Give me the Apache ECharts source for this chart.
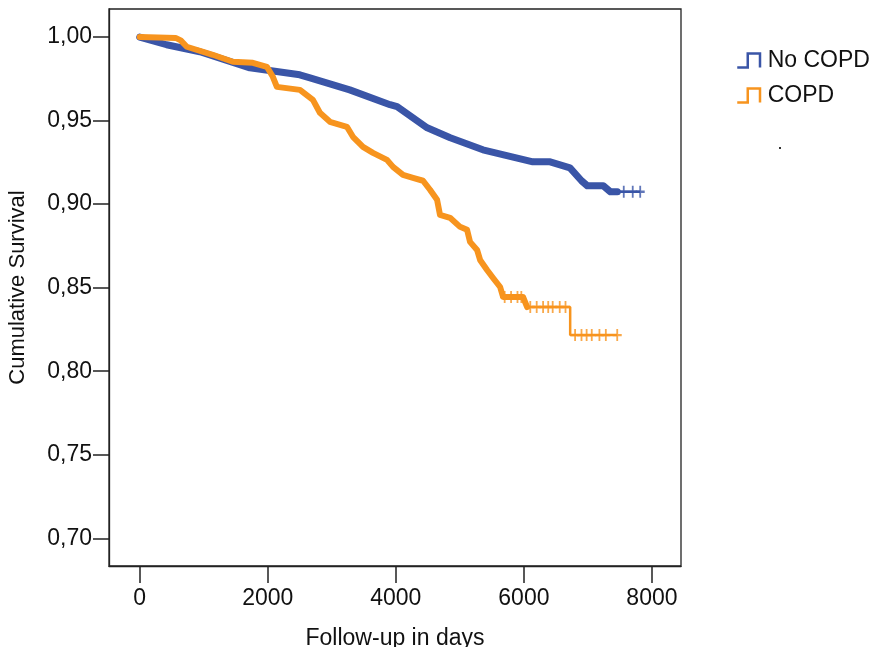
<!DOCTYPE html>
<html>
<head>
<meta charset="utf-8">
<script src="https://cdn.jsdelivr.net/npm/echarts@6/dist/echarts.min.js"></script>
<style>html,body{margin:0;padding:0;background:#fff}#c{width:876px;height:647px}</style>
</head>
<body>
<div id="c"></div>
<script>
// ---- data ----
var xTicks = [0, 2000, 4000, 6000, 8000];
var yTicks = [0.70, 0.75, 0.80, 0.85, 0.90, 0.95, 1.00];

var noCopdDays = [0, 420, 940, 1720, 2500, 2660, 3280, 3910, 4020, 4490, 4850, 5360, 6140, 6410, 6720, 6900, 6990, 7240, 7350, 7460];
var noCopdSurv = [1.000, 0.9954, 0.9912, 0.9816, 0.9774, 0.9756, 0.9684, 0.9595, 0.9583, 0.9457, 0.9397, 0.9325, 0.9253, 0.9253, 0.9217, 0.9140, 0.9110, 0.9110, 0.9074, 0.9074];
var noCopdTailDays = [7460, 7817];
var noCopdTailSurv = [0.9074, 0.9074];
var noCopdCensorDays = [7560, 7700, 7817];
var noCopdCensorSurv = [0.9074, 0.9074, 0.9074];

var copdDays = [0, 560, 640, 735, 1141, 1454, 1767, 1986, 2079, 2142, 2502, 2705, 2814, 2971, 3236, 3330, 3487, 3643, 3862, 3956, 4112, 4268, 4425, 4534, 4644, 4690, 4847, 5003, 5113, 5159, 5269, 5316, 5425, 5519, 5629, 5675, 5988, 6051];
var copdSurv = [1.000, 0.9995, 0.9980, 0.9942, 0.9894, 0.9852, 0.9846, 0.9822, 0.9762, 0.9702, 0.9684, 0.9624, 0.9547, 0.9493, 0.9463, 0.9403, 0.9343, 0.9307, 0.9265, 0.9223, 0.9175, 0.9157, 0.9140, 0.9086, 0.9026, 0.8936, 0.8918, 0.8864, 0.8846, 0.8774, 0.8726, 0.8666, 0.8606, 0.8558, 0.8504, 0.8444, 0.8444, 0.8384];
var copdTailDays = [6051, 6723, 6723, 7458];
var copdTailSurv = [0.8384, 0.8384, 0.8216, 0.8216];
var copdCensorDays = [5700, 5800, 5900, 5960, 6100, 6200, 6300, 6380, 6450, 6560, 6650, 6800, 6900, 6980, 7060, 7180, 7280, 7458];
var copdCensorSurv = [0.8444, 0.8444, 0.8444, 0.8444, 0.8384, 0.8384, 0.8384, 0.8384, 0.8384, 0.8384, 0.8384, 0.8216, 0.8216, 0.8216, 0.8216, 0.8216, 0.8216, 0.8216];

var seriesNames = ['No COPD', 'COPD'];
var xTitle = 'Follow-up in days';
var yTitle = 'Cumulative Survival';

// ---- build ----
var BLUE = '#3a55a7', ORANGE = '#f7941e';
function zip(a, b) { return a.map(function (v, i) { return [v, b[i]]; }); }
var plus = 'path://M4,0H6V4H10V6H6V10H4V6H0V4H4Z';
var stepIcon = 'path://M0,18 L12,18 L12,2 L26,2 L26,18';
var font = 'Liberation Sans, Arial, sans-serif';

var chart = echarts.init(document.getElementById('c'), null, {renderer: 'canvas'});
chart.setOption({
  animation: false,
  backgroundColor: '#fff',
  grid: {left: 109, right: 195, top: 9, bottom: 81, outerBoundsMode: 'none', containLabel: false,
    show: true, borderColor: '#222', borderWidth: 1.3, backgroundColor: 'transparent'},
  legend: {
    left: 731, top: 44, orient: 'vertical', itemWidth: 34, itemHeight: 14, itemGap: 12,
    textStyle: {fontFamily: font, fontSize: 23, color: '#111', padding: [0, 0, 0, -3]},
    data: [
      {name: seriesNames[0], icon: stepIcon, itemStyle: {color: 'transparent', borderColor: BLUE, borderWidth: 2.5}},
      {name: seriesNames[1], icon: stepIcon, itemStyle: {color: 'transparent', borderColor: ORANGE, borderWidth: 2.5}}
    ]
  },
  xAxis: {
    type: 'value', min: -480, max: 8454,
    name: xTitle, nameLocation: 'middle', nameGap: 61,
    nameTextStyle: {fontFamily: font, fontSize: 23, color: '#111'},
    axisLine: {show: true, onZero: false, lineStyle: {color: '#222', width: 1.3}},
    axisTick: {show: true, length: 17, customValues: xTicks, lineStyle: {color: '#222', width: 1.5}},
    axisLabel: {customValues: xTicks, margin: 21, fontFamily: font, fontSize: 23, color: '#111',
      formatter: function (v) { return String(v); }},
    splitLine: {show: false}
  },
  yAxis: {
    type: 'value', min: 0.6834, max: 1.0168,
    name: yTitle, nameLocation: 'middle', nameGap: 80, nameRotate: 90,
    nameTextStyle: {fontFamily: font, fontSize: 22, color: '#111'},
    axisLine: {show: true, onZero: false, lineStyle: {color: '#222', width: 1.3}},
    axisTick: {show: true, length: 16, customValues: yTicks, lineStyle: {color: '#222', width: 1.5}},
    axisLabel: {customValues: yTicks, margin: 17, fontFamily: font, fontSize: 23, color: '#111',
      formatter: function (v) { return v.toFixed(2).replace('.', ','); }},
    splitLine: {show: false}
  },
  graphic: [{type: 'rect', left: 779, top: 147, shape: {width: 2, height: 2}, style: {fill: '#333'}}],
  series: [
    {name: seriesNames[0], type: 'line', data: zip(noCopdDays, noCopdSurv), showSymbol: false, symbol: 'none',
      lineStyle: {color: BLUE, width: 7, join: 'round', cap: 'round'}, itemStyle: {color: BLUE}, z: 2},
    {name: seriesNames[0], type: 'line', data: zip(noCopdTailDays, noCopdTailSurv), symbol: 'none',
      lineStyle: {color: BLUE, width: 2.5}, itemStyle: {color: BLUE}, z: 2},
    {name: seriesNames[0], type: 'scatter', data: zip(noCopdCensorDays, noCopdCensorSurv), symbol: plus, symbolSize: [9, 12],
      itemStyle: {color: BLUE}, z: 2},
    {name: seriesNames[1], type: 'line', data: zip(copdDays, copdSurv), symbol: 'none',
      lineStyle: {color: ORANGE, width: 6, join: 'round', cap: 'round'}, itemStyle: {color: ORANGE}, z: 3},
    {name: seriesNames[1], type: 'line', data: zip(copdTailDays, copdTailSurv), symbol: 'none',
      lineStyle: {color: ORANGE, width: 2.5}, itemStyle: {color: ORANGE}, z: 3},
    {name: seriesNames[1], type: 'scatter', data: zip(copdCensorDays, copdCensorSurv), symbol: plus, symbolSize: [9, 12],
      itemStyle: {color: ORANGE}, z: 3}
  ]
});
</script>
</body>
</html>
